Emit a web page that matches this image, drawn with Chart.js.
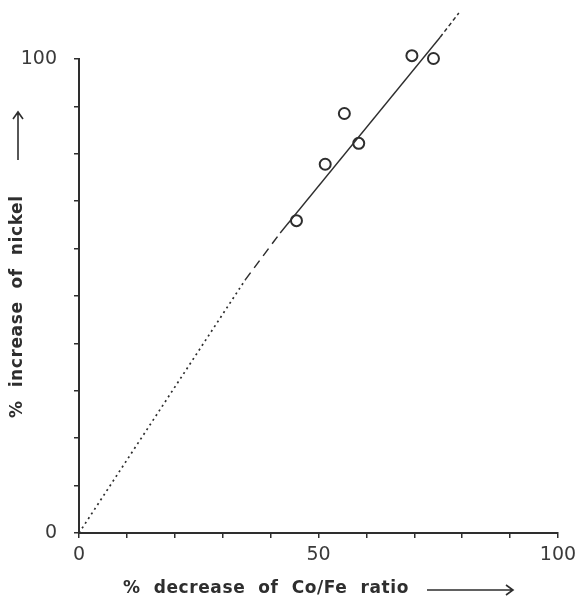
<!DOCTYPE html>
<html>
<head>
<meta charset="utf-8">
<script src="https://cdn.jsdelivr.net/npm/chart.js@4/dist/chart.umd.min.js"></script>
<style>
  html, body { margin: 0; padding: 0; background: #ffffff; }
  #wrap { width: 583px; height: 603px; }
</style>
</head>
<body>
<div id="wrap"><canvas id="c" width="583" height="603"></canvas></div>
<script>
// ---- data ----
const pointX = [45.4, 51.4, 55.4, 58.4, 69.5, 74.0];   // % decrease of Co/Fe ratio
const pointY = [65.9, 77.8, 88.5, 82.2, 100.7, 100.1]; // % increase of nickel

// drawn relation: dotted from origin, dashed, solid through the data, dashed beyond
const lineX = [0, 34.7, 42.0, 75.4, 79.3];
const lineY = [0, 53.4, 63.3, 104.6, 109.7];

const xTickLabels = [0, 50, 100];
const yTickLabels = [0, 100];

const xTitle = "%  decrease  of  Co/Fe  ratio";
const yTitle = "%  increase  of  nickel";

// ---- styles ----
const ink = '#2e2e2e';
const segmentDashes = [[2, 3.6], [9, 6], [], [4, 3]];
const segmentWidths = [1.7, 1.5, 1.4, 1.5];

const titlePlugin = {
  id: 'titles',
  afterDraw(chart) {
    const ctx = chart.ctx;
    ctx.save();
    ctx.fillStyle = ink;
    ctx.strokeStyle = ink;
    ctx.font = 'bold 17px "DejaVu Sans"';
    if ('letterSpacing' in ctx) ctx.letterSpacing = '0.6px';
    ctx.textBaseline = 'middle';
    ctx.textAlign = 'left';
    // x title
    ctx.fillText(xTitle, 123, 589);
    ctx.lineWidth = 1.6;
    ctx.beginPath();
    ctx.moveTo(427, 590); ctx.lineTo(513, 590);
    ctx.moveTo(506, 585); ctx.lineTo(513, 590); ctx.lineTo(506, 595);
    ctx.stroke();
    // y title
    ctx.save();
    ctx.translate(18, 418);
    ctx.rotate(-Math.PI / 2);
    ctx.fillText(yTitle, 0, 0);
    ctx.restore();
    ctx.beginPath();
    ctx.moveTo(18, 160); ctx.lineTo(18, 112);
    ctx.moveTo(13, 119); ctx.lineTo(18, 112); ctx.lineTo(23, 119);
    ctx.stroke();
    ctx.restore();
  }
};

const ctx = document.getElementById('c').getContext('2d');
new Chart(ctx, {
  type: 'scatter',
  data: {
    datasets: [
      {
        label: 'relation',
        type: 'line',
        data: lineX.map((x, i) => ({ x: x, y: lineY[i] })),
        borderColor: ink,
        borderWidth: 1.4,
        pointRadius: 0,
        fill: false,
        tension: 0,
        clip: false,
        segment: {
          borderDash: c => segmentDashes[c.p0DataIndex],
          borderWidth: c => segmentWidths[c.p0DataIndex]
        }
      },
      {
        label: 'data',
        data: pointX.map((x, i) => ({ x: x, y: pointY[i] })),
        showLine: false,
        pointStyle: 'circle',
        pointRadius: 5.5,
        pointBorderWidth: 2,
        pointBorderColor: ink,
        pointBackgroundColor: 'rgba(255,255,255,0)',
        clip: false
      }
    ]
  },
  options: {
    responsive: false,
    animation: false,
    layout: { padding: { left: 0, top: 59, right: 25, bottom: 0 } },
    plugins: { legend: { display: false }, tooltip: { enabled: false } },
    scales: {
      x: {
        type: 'linear', min: 0, max: 100,
        afterFit: s => { s.height = 70; },
        border: { display: true, color: ink, width: 2 },
        grid: { drawOnChartArea: false, drawTicks: true, tickLength: 5, color: ink, lineWidth: 1.5 },
        ticks: {
          stepSize: 10, autoSkip: false, maxRotation: 0, padding: 6,
          color: '#3a3a3a', font: { family: 'DejaVu Sans', size: 19 },
          callback: v => xTickLabels.includes(v) ? String(v) : ''
        }
      },
      y: {
        type: 'linear', min: 0, max: 100,
        afterFit: s => { s.width = 79; },
        border: { display: true, color: ink, width: 2 },
        grid: { drawOnChartArea: false, drawTicks: true, tickLength: 5, color: ink, lineWidth: 1.5 },
        ticks: {
          stepSize: 10, autoSkip: false, padding: 17,
          color: '#3a3a3a', font: { family: 'DejaVu Sans', size: 19 },
          callback: v => yTickLabels.includes(v) ? String(v) : ''
        }
      }
    }
  },
  plugins: [titlePlugin]
});
</script>
</body>
</html>
